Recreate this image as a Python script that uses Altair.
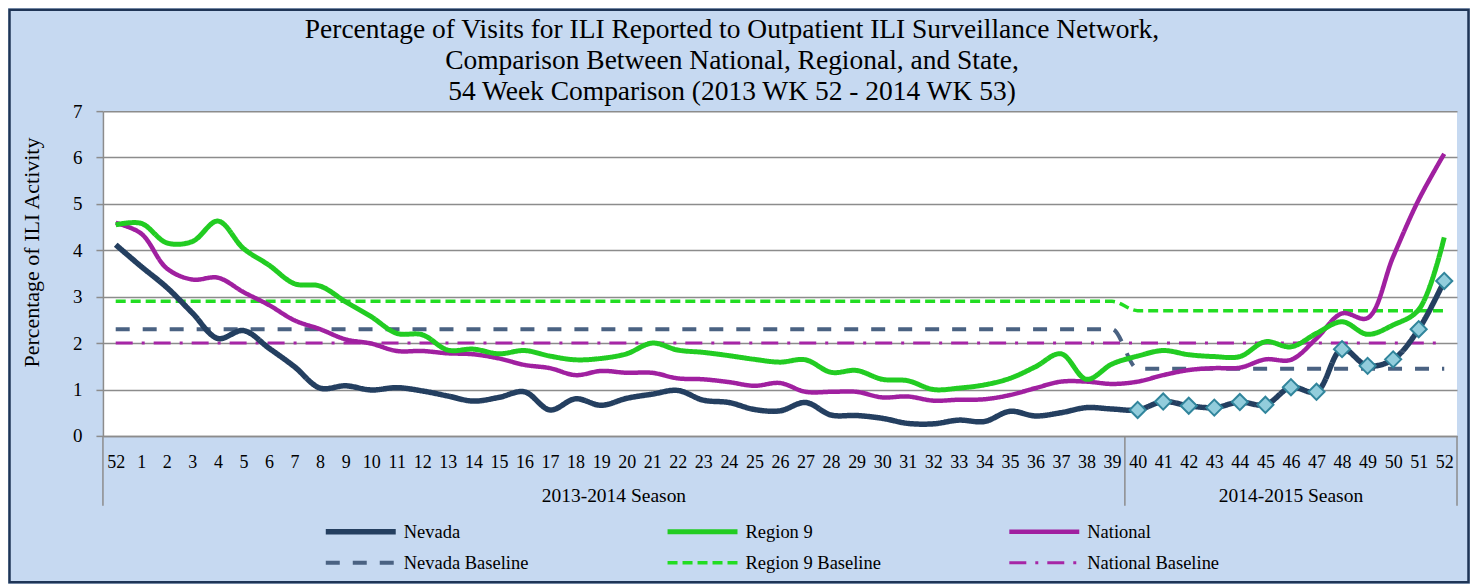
import altair as alt
import pandas as pd

weeks = ["52", "1", "2", "3", "4", "5", "6", "7", "8", "9", "10", "11", "12", "13",
         "14", "15", "16", "17", "18", "19", "20", "21", "22", "23", "24", "25", "26",
         "27", "28", "29", "30", "31", "32", "33", "34", "35", "36", "37", "38", "39",
         "40", "41", "42", "43", "44", "45", "46", "47", "48", "49", "50", "51", "52"]

nevada = [4.12, 3.65, 3.20, 2.65, 2.10, 2.27, 1.89, 1.49, 1.03, 1.08, 0.99, 1.04, 0.97,
          0.86, 0.75, 0.83, 0.95, 0.56, 0.80, 0.66, 0.81, 0.90, 0.98, 0.77, 0.72, 0.57,
          0.54, 0.72, 0.45, 0.44, 0.38, 0.27, 0.26, 0.34, 0.31, 0.53, 0.43, 0.50, 0.61,
          0.58, 0.56, 0.74, 0.65, 0.61, 0.73, 0.67, 1.05, 0.95, 1.87, 1.51, 1.65, 2.30, 3.34]

region9 = [4.55, 4.58, 4.16, 4.19, 4.63, 4.04, 3.68, 3.28, 3.23, 2.89, 2.57, 2.21, 2.18,
           1.85, 1.87, 1.77, 1.84, 1.72, 1.64, 1.67, 1.77, 2.00, 1.85, 1.80, 1.73, 1.65,
           1.59, 1.64, 1.37, 1.41, 1.22, 1.19, 1.00, 1.03, 1.10, 1.24, 1.49, 1.77, 1.22,
           1.55, 1.72, 1.84, 1.75, 1.71, 1.71, 2.03, 1.92, 2.21, 2.46, 2.19, 2.39, 2.72, 4.28]

national = [4.59, 4.36, 3.61, 3.37, 3.41, 3.10, 2.82, 2.49, 2.30, 2.08, 1.99, 1.83, 1.83,
            1.78, 1.76, 1.67, 1.53, 1.46, 1.31, 1.40, 1.36, 1.36, 1.24, 1.22, 1.16, 1.08,
            1.14, 0.95, 0.95, 0.95, 0.83, 0.85, 0.76, 0.78, 0.79, 0.88, 1.03, 1.17, 1.17,
            1.12, 1.17, 1.31, 1.42, 1.46, 1.47, 1.65, 1.64, 2.10, 2.64, 2.54, 3.86, 5.09, 6.08]

nevada_baseline = [2.3, 2.3, 2.3, 2.3, 2.3, 2.3, 2.3, 2.3, 2.3, 2.3, 2.3, 2.3, 2.3,
                   2.3, 2.3, 2.3, 2.3, 2.3, 2.3, 2.3, 2.3, 2.3, 2.3, 2.3, 2.3, 2.3,
                   2.3, 2.3, 2.3, 2.3, 2.3, 2.3, 2.3, 2.3, 2.3, 2.3, 2.3, 2.3, 2.3,
                   2.3, 1.45, 1.45, 1.45, 1.45, 1.45, 1.45, 1.45, 1.45, 1.45, 1.45,
                   1.45, 1.45, 1.45]

region9_baseline = [2.9, 2.9, 2.9, 2.9, 2.9, 2.9, 2.9, 2.9, 2.9, 2.9, 2.9, 2.9, 2.9,
                    2.9, 2.9, 2.9, 2.9, 2.9, 2.9, 2.9, 2.9, 2.9, 2.9, 2.9, 2.9, 2.9,
                    2.9, 2.9, 2.9, 2.9, 2.9, 2.9, 2.9, 2.9, 2.9, 2.9, 2.9, 2.9, 2.9,
                    2.9, 2.7, 2.7, 2.7, 2.7, 2.7, 2.7, 2.7, 2.7, 2.7, 2.7, 2.7, 2.7, 2.7]

national_baseline = [2.0, 2.0, 2.0, 2.0, 2.0, 2.0, 2.0, 2.0, 2.0, 2.0, 2.0, 2.0, 2.0,
                     2.0, 2.0, 2.0, 2.0, 2.0, 2.0, 2.0, 2.0, 2.0, 2.0, 2.0, 2.0, 2.0,
                     2.0, 2.0, 2.0, 2.0, 2.0, 2.0, 2.0, 2.0, 2.0, 2.0, 2.0, 2.0, 2.0,
                     2.0, 2.0, 2.0, 2.0, 2.0, 2.0, 2.0, 2.0, 2.0, 2.0, 2.0, 2.0, 2.0, 2.0]

title_lines = ["Percentage of Visits for ILI Reported to Outpatient ILI Surveillance Network,",
               "Comparison Between National, Regional, and State,",
               "54 Week Comparison (2013 WK 52 - 2014 WK 53)"]

seasons = ["2013-2014 Season", "2014-2015 Season"]
season_start = [-0.5, 39.5]
season_end = [39.5, 52.5]
marker_from = 40  # Nevada 2014-2015 season points carry markers

series_order = ["Nevada", "Region 9", "National",
                "Nevada Baseline", "Region 9 Baseline", "National Baseline"]
series_colors = ["#243F60", "#22CC22", "#A020A0", "#4A6282", "#22DD22", "#A626A6"]
series_dash = [[1, 0], [1, 0], [1, 0], [14, 13], [10, 5], [17, 9, 3, 9]]
series_width = [5.5, 3, 3, 3.5, 3.5, 3.5]

FONT = "Liberation Serif"
W, H = 1355, 325
GRID = "#8c8c8c"

def long_table(pairs):
    rows = []
    for name, vals in pairs:
        for i, v in enumerate(vals):
            rows.append({"idx": i, "value": v, "series": name})
    return pd.DataFrame(rows)

base_df = long_table([("Nevada Baseline", nevada_baseline),
                      ("Region 9 Baseline", region9_baseline),
                      ("National Baseline", national_baseline)])
data_df = long_table([("National", national), ("Region 9", region9), ("Nevada", nevada)])

season_df = pd.DataFrame({"season": seasons, "start": season_start, "end": season_end})
bounds_df = pd.DataFrame({"b": sorted(set(season_start + season_end))})

label_expr = "[" + ",".join("'%s'" % w for w in weeks) + "][datum.value]"

x_scale = alt.Scale(domain=[-0.5, 52.5], nice=False, zero=False)
x_axis = alt.Axis(values=list(range(len(weeks))), labelExpr=label_expr,
                  ticks=False, grid=False, domainColor=GRID, domainWidth=1.5,
                  labelFont=FONT, labelFontSize=18, labelColor="black",
                  labelPadding=18, labelOverlap=False, labelFlush=False,
                  title=None)
x_enc = alt.X("idx:Q", scale=x_scale, axis=x_axis)
y_enc = alt.Y("value:Q",
              scale=alt.Scale(domain=[0, 7], nice=False),
              axis=alt.Axis(values=[0, 1, 2, 3, 4, 5, 6, 7], grid=True, gridColor=GRID,
                            gridWidth=1.5, tickColor=GRID, tickWidth=1.5, tickSize=7,
                            domainColor=GRID, domainWidth=1.5,
                            labelFont=FONT, labelFontSize=19, labelColor="black",
                            labelPadding=14,
                            title="Percentage of ILI Activity", titleFont=FONT,
                            titleFontSize=22, titleFontWeight="normal", titleColor="black",
                            titleX=-59, titleY=141))

legend = alt.Legend(orient="none", legendX=220, legendY=411, columns=3,
                    direction="horizontal",
                    symbolType="stroke", symbolSize=4900, clipHeight=20,
                    rowPadding=11, columnPadding=125, gridAlign="all",
                    labelFont=FONT, labelFontSize=18.5, labelColor="black",
                    labelOffset=5, title=None, padding=0)

enc = dict(
    x=x_enc, y=y_enc,
    color=alt.Color("series:N", scale=alt.Scale(domain=series_order, range=series_colors),
                    legend=legend),
    strokeDash=alt.StrokeDash("series:N", scale=alt.Scale(domain=series_order, range=series_dash),
                              legend=legend),
    strokeWidth=alt.StrokeWidth("series:N", scale=alt.Scale(domain=series_order, range=series_width),
                                legend=legend),
    detail="series:N",
)

lines = alt.Chart(data_df).mark_line(interpolate="catmull-rom", strokeCap="butt").encode(**enc)
baselines = alt.Chart(base_df).mark_line(interpolate="monotone", strokeCap="butt").encode(**enc)

markers = alt.Chart(data_df).transform_filter(
    (alt.datum.series == "Nevada") & (alt.datum.idx >= marker_from)
).mark_point(shape="diamond", filled=True, size=260, fill="#92CDDC",
             stroke="#31859C", strokeWidth=2, opacity=1).encode(
    x=alt.X("idx:Q", scale=x_scale, axis=x_axis), y=alt.Y("value:Q"))

season_text = alt.Chart(season_df).transform_calculate(
    center="(datum.start + datum.end) / 2"
).mark_text(font=FONT, fontSize=19.5, color="black", baseline="alphabetic", align="center").encode(
    x=alt.X("center:Q", scale=x_scale, axis=x_axis), y=alt.value(391), text="season:N")

dividers = alt.Chart(bounds_df).mark_rule(color=GRID, strokeWidth=1.5).encode(
    x=alt.X("b:Q", scale=x_scale, axis=x_axis), y=alt.value(H), y2=alt.value(H + 70))

title = alt.Chart(pd.DataFrame({"k": [0]})).mark_text(
    text=title_lines, font=FONT, fontSize=27.5, color="black", lineHeight=31,
    baseline="alphabetic", align="center").encode(
    x=alt.value(629.5), y=alt.value(-73))

frame = alt.Chart(pd.DataFrame({"k": [0]})).mark_rect(
    fillOpacity=0, stroke="#1F3556", strokeWidth=2.5).encode(
    x=alt.value(-93.5), x2=alt.value(W + 11.5), y=alt.value(-101.5), y2=alt.value(H + 146.5))

chart = alt.layer(baselines, lines, markers, dividers, season_text, title, frame).properties(
    width=W, height=H,
    autosize=alt.AutoSizeParams(type="none"),
    padding={"left": 95, "top": 103, "right": 13, "bottom": 148},
).configure(background="#C6D9F1").configure_view(fill="white", stroke=None)

chart.save("out.html", embed_options={"renderer": "svg", "actions": False})
